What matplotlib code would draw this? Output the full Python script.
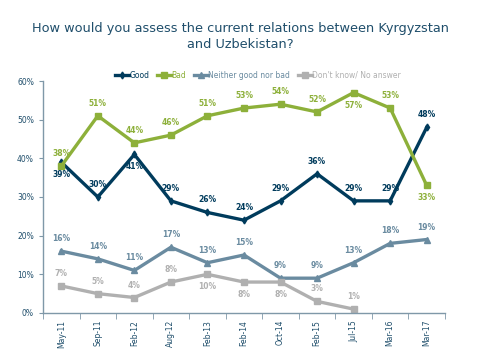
import matplotlib
matplotlib.use("Agg")
import matplotlib.pyplot as plt
import numpy as np

categories = ['May-11', 'Sep-11', 'Feb-12', 'Aug-12', 'Feb-13', 'Feb-14',
              'Oct-14', 'Feb-15', 'Jul-15', 'Mar-16', 'Mar-17']
good = [39, 30, 41, 29, 26, 24, 29, 36, 29, 29, 48]
bad = [38, 51, 44, 46, 51, 53, 54, 52, 57, 53, 33]
neither = [16, 14, 11, 17, 13, 15, 9, 9, 13, 18, 19]
dont_know = [7, 5, 4, 8, 10, 8, 8, 3, 1, None, None]

# label placement: 1 above, -1 below
good_pos = [-1, 1, -1, 1, 1, 1, 1, 1, 1, 1, 1]
bad_pos = [1, 1, 1, 1, 1, 1, 1, 1, -1, 1, -1]
neither_pos = [1] * 11
dk_pos = [1, 1, 1, 1, -1, -1, -1, 1, 1]

c_good = '#003b5c'
c_bad = '#8db03a'
c_neither = '#6a8ba0'
c_dk = '#b0b0b0'
c_text = '#1f4e6b'

fig = plt.figure(figsize=(4.8, 3.6), dpi=100)
fig.text(0.5, 0.898, 'How would you assess the current relations between Kyrgyzstan\nand Uzbekistan?',
         ha='center', va='center', fontsize=9.3, color=c_text, linespacing=1.3)
ax = fig.add_axes([0.0896, 0.1306, 0.8374, 0.6444])

x = np.arange(len(categories))
series = [
    ('Good', good, good_pos, c_good, 'd', 3.5),
    ('Bad', bad, bad_pos, c_bad, 's', 5),
    ('Neither good nor bad', neither, neither_pos, c_neither, '^', 4.5),
    ("Don't know/ No answer", dont_know, dk_pos, c_dk, 's', 5),
]
for name, vals, pos, col, mk, ms in series:
    n = sum(v is not None for v in vals)
    xs = x[:n]
    ys = np.array(vals[:n]) / 100
    ax.plot(xs, ys, color=col, lw=2.4, marker=mk, ms=ms, label=name)
    for xi, yi, p in zip(xs, ys, pos):
        ax.annotate('%d%%' % round(yi * 100), (xi, yi), xytext=(0, 9 * p), textcoords='offset points',
                    ha='center', va='center', fontsize=5.5, color=col, fontweight='semibold')

ax.set_xlim(-0.5, len(categories) - 0.5)
ax.set_ylim(0, 0.6)
ax.set_yticks(np.arange(0, 0.61, 0.1))
ax.set_yticklabels(['%d%%' % (v * 100) for v in np.arange(0, 0.61, 0.1)])
ax.set_xticks(x)
ax.set_xticklabels(categories, rotation=90)
ax.set_xticks(np.arange(-0.5, len(categories)), minor=True)
ax.tick_params(axis='x', which='major', length=0, labelsize=5.5, labelcolor=c_text, pad=5)
ax.tick_params(axis='x', which='minor', length=4, color='#7f98a8')
ax.tick_params(axis='y', length=3, color='#7f98a8', labelsize=5.5, labelcolor=c_text)
for s in ['top', 'right']:
    ax.spines[s].set_visible(False)
for s in ['left', 'bottom']:
    ax.spines[s].set_color('#7f98a8')
    ax.spines[s].set_linewidth(1)

leg = ax.legend(loc='lower center', bbox_to_anchor=(0.535, 0.975), ncol=4, frameon=False,
                fontsize=5.5, handlelength=1.8, handletextpad=0.1, columnspacing=1.0)
for t, (name, vals, pos, col, mk, ms) in zip(leg.get_texts(), series):
    t.set_color(col)

fig.savefig('out.png', dpi=100)
